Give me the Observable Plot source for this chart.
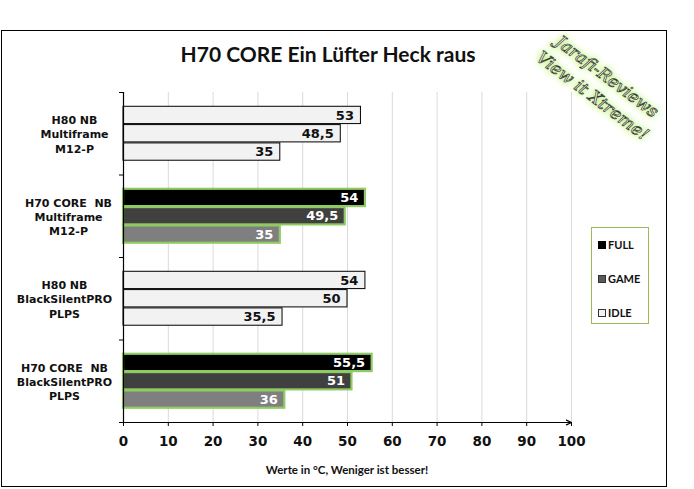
<!DOCTYPE html>
<html>
<head>
<meta charset="utf-8">
<script src="https://cdn.jsdelivr.net/npm/d3@7"></script>
<script src="https://cdn.jsdelivr.net/npm/@observablehq/plot@0.6"></script>
<style>
  html, body { margin: 0; padding: 0; background: #fff; }
  #wrap { position: relative; width: 694px; height: 489px; overflow: hidden; }
  #wrap svg { position: absolute; left: 0; top: 0; }
  .ov { position: absolute; pointer-events: none; }
  #frame { left: 1px; top: 30px; width: 664px; height: 455px; border: 1px solid #000; }
  #title { left: 0; width: 656px; top: 41px; text-align: center; font: bold 21px Lato, "Open Sans", sans-serif; color: #111; }
  #xtitle { left: 123px; width: 448px; top: 463px; text-align: center; font: bold 11.5px Lato, "Open Sans", sans-serif; color: #111; }
  #legend { left: 591px; top: 227px; width: 58px; height: 97px; border: 1px solid #9bbb59; box-sizing: border-box; font: bold 11px Lato, "Open Sans", sans-serif; color: #111; }
  #legend .item { position: absolute; left: 6px; display: flex; align-items: center; gap: 2px; }
  #legend .sw { width: 8px; height: 8px; box-sizing: border-box; display: inline-block; }
  #wm { left: 520px; top: 62px; width: 160px; transform: rotate(37deg); transform-origin: center; text-align: center;
        font: italic 17px "DejaVu Serif", serif; line-height: 24px; color: #fff;
        -webkit-text-stroke: 0.7px #333;
        text-shadow: 0 0 4px #b6f06a, 0 0 7px #b6f06a, 0 0 10px #c8f58a; }
</style>
</head>
<body>
<div id="wrap"></div>
<script>
// ---- data ----
const categories = [
  "H80 NB\nMultiframe\nM12-P",
  "H70 CORE  NB\nMultiframe\nM12-P",
  "H80 NB\nBlackSilentPRO\nPLPS",
  "H70 CORE  NB\nBlackSilentPRO\nPLPS"
];
const seriesNames = ["FULL", "GAME", "IDLE"];
const fullValues = [53, 54, 54, 55.5];
const gameValues = [48.5, 49.5, 50, 51];
const idleValues = [35, 35, 35.5, 36];
const xTicks = [0, 10, 20, 30, 40, 50, 60, 70, 80, 90, 100];
const highlighted = [false, true, false, true]; // H70 groups use dark fills with green borders

// ---- styles ----
const darkFills = { FULL: "#000000", GAME: "#404040", IDLE: "#7f7f7f" };
const lightFill = "#f2f2f2";
const greenStroke = "#8fcb62";
const numFont = "DejaVu Sans, Verdana, sans-serif";
const labelOffsets = [-49, -55, -59, -59]; // horizontal shift of each category label from the axis (px)

const seriesValues = [fullValues, gameValues, idleValues];
const rows = [];
categories.forEach((cat, ci) => {
  seriesNames.forEach((s, si) => {
    rows.push({ cat, ci, series: s, si, value: seriesValues[si][ci], hi: highlighted[ci] });
  });
});

// slot layout within each category band (y domain units: one unit per category)
const barH = 0.222;
const padTop = (1 - 3 * barH) / 2;
const y1Of = d => d.ci + padTop + d.si * barH;
const y2Of = d => d.ci + padTop + (d.si + 1) * barH;

const catLabelMarks = categories.map((c, i) =>
  Plot.text([c], {
    x: d => 0,
    y: d => i + 0.5,
    text: d => d,
    textAnchor: "middle",
    dx: labelOffsets[i],
    lineHeight: 1.3,
    fontWeight: "bold",
    fontSize: 11,
    fontFamily: numFont,
    fill: "#111"
  })
);

const chart = Plot.plot({
  width: 694,
  height: 489,
  marginLeft: 123,
  marginRight: 123,
  marginTop: 92,
  marginBottom: 67,
  style: { background: "transparent", overflow: "visible" },
  x: { domain: [0, 100], axis: null, label: null },
  y: { domain: [0, categories.length], reverse: true, axis: null, label: null },
  marks: [
    Plot.ruleX(xTicks.slice(1), { y1: 0, y2: categories.length, stroke: "#d9d9d9", strokeWidth: 1 }),
    Plot.rect(rows, {
      x1: d => 0,
      x2: "value",
      y1: y1Of,
      y2: y2Of,
      fill: d => d.hi ? darkFills[d.series] : lightFill,
      stroke: d => d.hi ? greenStroke : "#000000",
      strokeWidth: d => d.hi ? 2.2 : 1,
      insetTop: 0.5,
      insetBottom: 0.5
    }),
    Plot.text(rows, {
      x: "value",
      y: d => (y1Of(d) + y2Of(d)) / 2,
      text: d => String(d.value).replace(".", ","),
      textAnchor: "end",
      dx: -7,
      fill: d => d.hi ? "#ffffff" : "#111111",
      fontWeight: "bold",
      fontSize: 13,
      fontFamily: numFont
    }),
    ...catLabelMarks,
    Plot.ruleX([0], { y1: 0, y2: categories.length, stroke: "#000", strokeWidth: 1.2 }),
    Plot.axisY({ ticks: d3.range(0, categories.length + 1), tickSize: 4, tickFormat: () => "", stroke: "#000", label: null }),
    Plot.arrow([0], { x1: d => 0, x2: d => 100, y1: d => categories.length, y2: d => categories.length, stroke: "#000", strokeWidth: 1.2, headLength: 7, headAngle: 50 }),
    Plot.axisX({
      ticks: xTicks,
      tickSize: 4,
      tickPadding: 10,
      label: null,
      fontWeight: "bold",
      fontSize: 13.5,
      fontFamily: numFont,
      fill: "#111",
      stroke: "#000"
    })
  ]
});

const wrap = document.getElementById("wrap");
wrap.appendChild(chart);

function addDiv(id, html) {
  const d = document.createElement("div");
  d.className = "ov";
  d.id = id;
  d.innerHTML = html;
  wrap.appendChild(d);
  return d;
}
addDiv("frame", "");
addDiv("title", "H70 CORE Ein Lüfter Heck raus");
addDiv("xtitle", "Werte in °C, Weniger ist besser!");
const swatch = {
  FULL: "background:#000;border:1px solid #000",
  GAME: "background:#595959;border:1px solid #333",
  IDLE: "background:#f2f2f2;border:1px solid #333"
};
const tops = [10, 44, 78];
addDiv("legend", seriesNames.map((s, i) =>
  `<div class="item" style="top:${tops[i]}px"><span class="sw" style="${swatch[s]}"></span><span>${s}</span></div>`
).join(""));
addDiv("wm", "Jarafi-Reviews<br>View it Xtreme!");
</script>
</body>
</html>
